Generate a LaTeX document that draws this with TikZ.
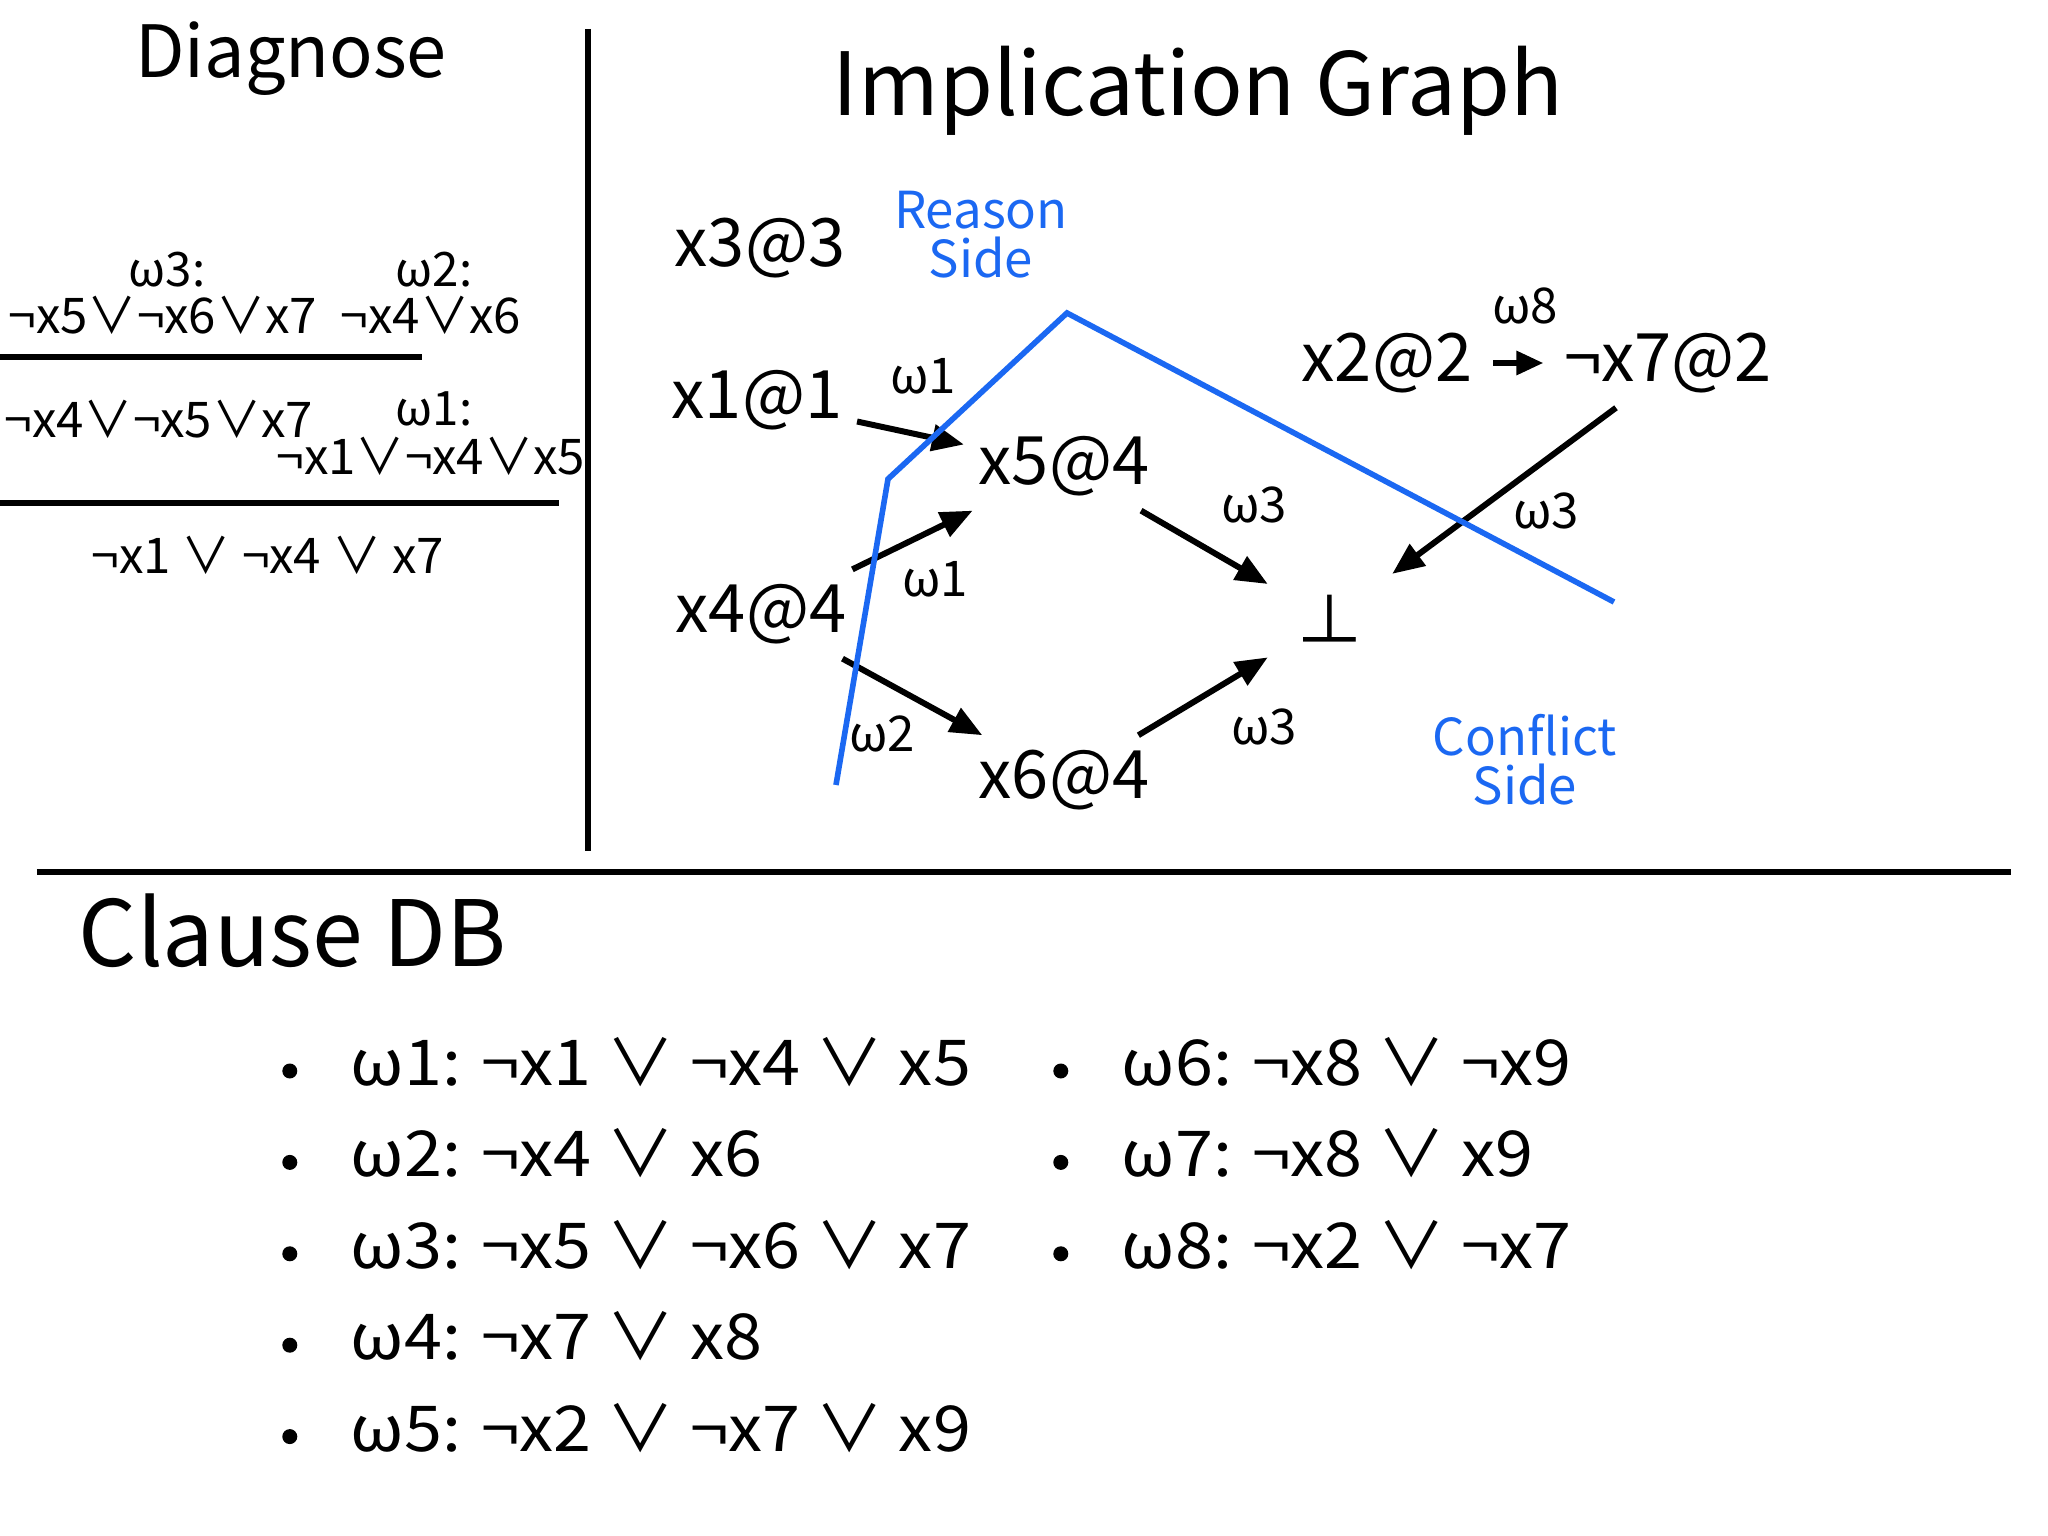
\documentclass[tikz,border=0pt]{standalone}
\usepackage{fontspec}
\setmainfont{Noto Sans CJK JP}
\newfontfamily\dbfont{Noto Sans CJK JP}[FakeStretch=1.08]
\usepackage{tikz}
\usetikzlibrary{arrows.meta, positioning}
\definecolor{CutBlue}{HTML}{1B68F2}
\tikzset{
  % Text styles
  titletext/.style={font=\fontsize{24.8}{28}\selectfont, inner sep=0pt},
  subtitletext/.style={font=\fontsize{20.5}{24}\selectfont, inner sep=0pt},
  diagformula/.style={font=\fontsize{14}{16}\selectfont, inner sep=0pt},
  diaglabel/.style={font=\fontsize{13.5}{15}\selectfont, inner sep=0pt},
  litnode/.style={font=\fontsize{19}{22}\selectfont, inner sep=4pt},
  weightlabel/.style={font=\fontsize{14}{16}\selectfont, inner sep=0pt},
  sidelabel/.style={font=\fontsize{14.5}{14}\selectfont, text=CutBlue, align=center, inner sep=0pt},
  dbitem/.style={font=\dbfont\fontsize{18}{21}\selectfont, anchor=west, inner sep=0pt},
  dbbullet/.style={circle, fill=black, inner sep=0pt, minimum size=0.15cm},
  % Line styles
  arrow/.style={-{Triangle[length=0.32cm, width=0.26cm]}, line width=1.7pt},
  rule/.style={line width=1.5pt},
  cutline/.style={CutBlue, line width=1.6pt}
}

\begin{document}
\begin{tikzpicture}
  \useasboundingbox (0,0) rectangle (20.48,-15.36);

  % Frame lines
  \draw[rule] (5.88,-0.29) -- (5.88,-8.51);
  \draw[rule] (0.37,-8.72) -- (20.11,-8.72);

  % Diagnose
  \node[subtitletext] (diag) at (2.91,-0.59) {Diagnose};
  \node[diaglabel] (dw3) at (1.67,-2.70) {ω3:};
  \node[diagformula] (dc3) at (1.63,-3.15) {¬x5∨¬x6∨x7};
  \node[diaglabel] (dw2) at (4.34,-2.70) {ω2:};
  \node[diagformula] (dc2) at (4.31,-3.15) {¬x4∨x6};
  \draw[rule] (0,-3.57) -- (4.22,-3.57);
  \node[diagformula] (dr1) at (1.59,-4.19) {¬x4∨¬x5∨x7};
  \node[diaglabel] (dw1) at (4.34,-4.09) {ω1:};
  \node[diagformula] (dc1) at (4.31,-4.56) {¬x1∨¬x4∨x5};
  \draw[rule] (0,-5.03) -- (5.59,-5.03);
  \node[diagformula] (dr2) at (2.68,-5.55) {¬x1 ∨ ¬x4 ∨ x7};

  % Implication graph
  \node[titletext] (graph) at (11.98,-0.91) {Implication Graph};
  \node[litnode] (x3) at (7.60,-2.48) {x3@3};
  \node[litnode] (x1) at (7.57,-4.00) {x1@1};
  \node[litnode] (x4) at (7.61,-6.14) {x4@4};
  \node[litnode] (x5) at (10.64,-4.66) {x5@4};
  \node[litnode] (x6) at (10.64,-7.80) {x6@4};
  \node[litnode, inner sep=8pt] (bot) at (13.30,-6.20) {⊥};
  \node[litnode] (x2) at (13.87,-3.63) {x2@2};
  \node[litnode] (nx7) at (16.68,-3.63) {¬x7@2};

  \draw[arrow] (x1) -- (x5);
  \draw[arrow] (x4) -- (x5);
  \draw[arrow] (x4) -- (x6);
  \draw[arrow] (x5) -- (bot);
  \draw[arrow] (x6) -- (bot);
  \draw[arrow, -{Triangle[length=0.27cm, width=0.23cm]}, shorten <=0.06cm, shorten >=0.06cm] (x2) -- (nx7);
  \draw[arrow] ([xshift=-0.52cm]nx7.south) -- (bot);

  \node[weightlabel] (l1) at (9.23,-3.76) {ω1};
  \node[weightlabel] (l2) at (9.35,-5.79) {ω1};
  \node[weightlabel] (l3) at (8.82,-7.34) {ω2};
  \node[weightlabel] (l4) at (12.54,-5.05) {ω3};
  \node[weightlabel] (l5) at (12.64,-7.27) {ω3};
  \node[weightlabel] (l6) at (15.25,-3.06) {ω8};
  \node[weightlabel] (l7) at (15.46,-5.11) {ω3};

  % Cut
  \draw[cutline] (8.36,-7.85) -- (8.88,-4.79) -- (10.67,-3.13) -- (16.14,-6.02);
  \node[sidelabel] (reason) at (9.81,-2.35) {Reason\\Side};
  \node[sidelabel] (conflict) at (15.25,-7.60) {Conflict\\Side};

  % Clause DB
  \node[titletext, font=\fontsize{26}{30}\selectfont, anchor=west] (db) at (0.78,-9.31) {Clause DB};
  \foreach \txt [count=\i] in {ω1: ¬x1 ∨ ¬x4 ∨ x5, ω2: ¬x4 ∨ x6, ω3: ¬x5 ∨ ¬x6 ∨ x7, ω4: ¬x7 ∨ x8, ω5: ¬x2 ∨ ¬x7 ∨ x9} {
    \node[dbitem] (w\i) at (3.50,{-10.62-0.914*(\i-1)}) {\txt};
    \node[dbbullet, left=0.52cm of w\i.west, yshift=-0.09cm] {};
  }
  \foreach \txt [count=\i from 6] in {ω6: ¬x8 ∨ ¬x9, ω7: ¬x8 ∨ x9, ω8: ¬x2 ∨ ¬x7} {
    \node[dbitem] (w\i) at (11.21,{-10.62-0.914*(\i-6)}) {\txt};
    \node[dbbullet, left=0.52cm of w\i.west, yshift=-0.09cm] {};
  }
\end{tikzpicture}
\end{document}
